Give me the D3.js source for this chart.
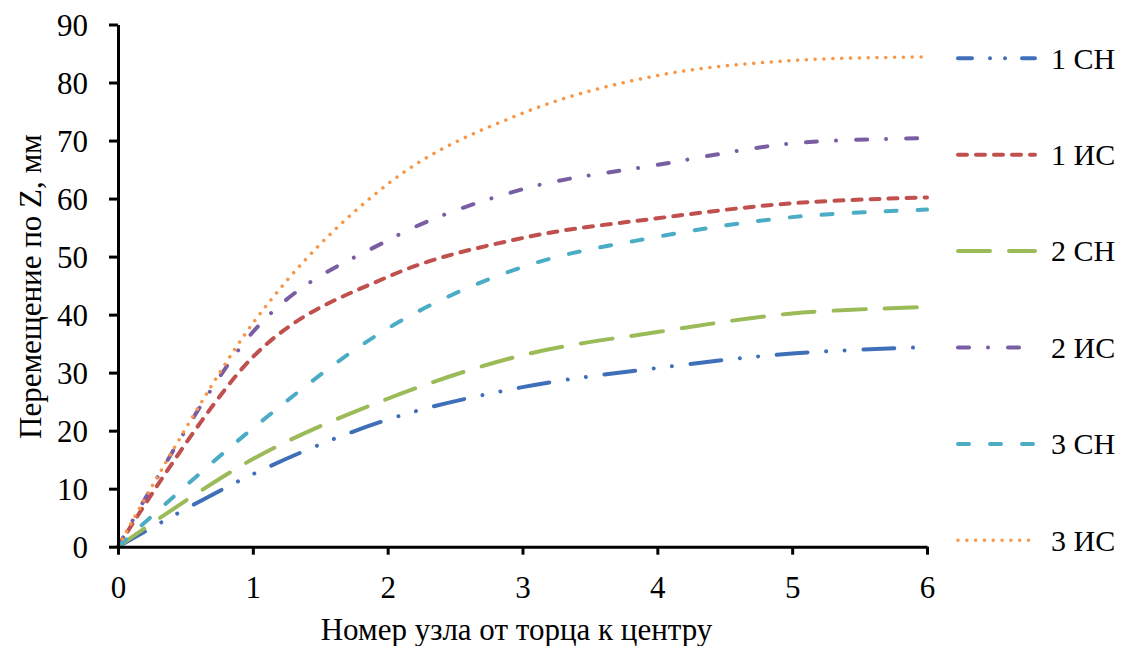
<!DOCTYPE html>
<html>
<head>
<meta charset="utf-8">
<script src="https://cdn.jsdelivr.net/npm/d3@7"></script>
</head>
<body style="margin:0; background:#fff">
<script>
// node numbers
const nodes = [0, 1, 2, 3, 4, 5, 6];

// displacement along Z, mm
const sn1 = [0, 12.5, 21.9, 27.5, 30.8, 33.3, 34.4];
const is1 = [0, 32.7, 46.5, 53.2, 56.6, 59.2, 60.2];
const sn2 = [0, 15.1, 25.5, 33.0, 37.0, 40.2, 41.3];
const is2 = [0, 37.0, 52.8, 61.6, 65.8, 69.5, 70.4];
const sn3 = [0, 20.4, 37.6, 48.2, 53.4, 56.8, 58.1];
const is3 = [0, 38.5, 62.5, 74.7, 81.2, 83.8, 84.4];

const seriesNames = ['1 СН', '1 ИС', '2 СН', '2 ИС', '3 СН', '3 ИС'];
const xTicks = [0, 1, 2, 3, 4, 5, 6];
const yTicks = [0, 10, 20, 30, 40, 50, 60, 70, 80, 90];

const FONT = 'Liberation Serif';

const styles = [
    {color: '#3f6fb8', dash: '31,18.7,0.01,18.3,0.01,18.7', legendDash: '14,18,0.01,15,0.01,17', width: 4},
    {color: '#c0504d', dash: '9,9', width: 4},
    {color: '#9bbb59', dash: '32,19', width: 4},
    {color: '#7a5ea3', dash: '11,19,0.01,20', width: 4},
    {color: '#4bacc6', dash: '11,21', width: 4},
    {color: '#f79646', dash: '0.01,8.8', width: 3.5}
];

const width = 1129, height = 646;
const margins = {top: 24.5, left: 118, right: 202, bottom: 99.3};
const innerW = width - margins.left - margins.right;
const innerH = height - margins.top - margins.bottom;

const svg = d3.select('body')
    .append('svg')
    .attr('width', width)
    .attr('height', height);

const chart = svg.append('g')
    .attr('transform', `translate(${margins.left},${margins.top})`);

//scales
const x = d3.scaleLinear().domain([0, 6]).range([0, innerW]);
const y = d3.scaleLinear().domain([0, 90]).range([innerH, 0]);

//lines
const data = [sn1, is1, sn2, is2, sn3, is3];
const line = d3.line()
    .x((d, i) => x(nodes[i]))
    .y(d => y(d))
    .curve(d3.curveCardinal.tension(0));

chart.selectAll('path.series')
    .data(data)
    .enter()
    .append('path')
    .classed('series', true)
    .attr('d', line)
    .attr('fill', 'none')
    .attr('stroke', (d, i) => styles[i].color)
    .attr('stroke-width', (d, i) => styles[i].width)
    .attr('stroke-linecap', 'round')
    .attr('stroke-dasharray', (d, i) => styles[i].dash);

//axes
const xAxis = chart.append('g')
    .attr('transform', `translate(0,${innerH})`)
    .call(d3.axisBottom(x).tickValues(xTicks).tickFormat(d3.format('d'))
        .tickSize(8).tickSizeOuter(0).tickPadding(21));

const yAxis = chart.append('g')
    .call(d3.axisLeft(y).tickValues(yTicks).tickFormat(d3.format('d'))
        .tickSize(9).tickSizeOuter(0).tickPadding(21));

[xAxis, yAxis].forEach(axis => {
    axis.attr('font-family', FONT).attr('font-size', 31);
    axis.selectAll('path, line')
        .attr('stroke', '#000')
        .attr('stroke-width', 3);
    axis.selectAll('text')
        .attr('fill', '#000')
        .attr('font-family', FONT)
        .style('font-family', FONT)
        .style('font-size', '31px');
});
yAxis.selectAll('text').attr('dy', '0.34em');
xAxis.selectAll('text').attr('dy', '0.71em');

//titles
svg.append('text')
    .attr('x', margins.left + innerW / 2 - 6)
    .attr('y', 640)
    .attr('text-anchor', 'middle')
    .attr('font-family', FONT)
    .attr('font-size', 31)
    .style('font-family', FONT)
    .text('Номер узла от торца к центру');

svg.append('text')
    .attr('transform', `translate(41,${margins.top + innerH / 2 + 1}) rotate(-90)`)
    .attr('text-anchor', 'middle')
    .attr('font-family', FONT)
    .attr('font-size', 31)
    .style('font-family', FONT)
    .text('Перемещение по Z, мм');

//legend
const rows = svg.append('g')
    .selectAll('g')
    .data(seriesNames)
    .enter()
    .append('g')
    .attr('transform', (d, i) => `translate(0,${58.3 + i * 96.4})`);

rows.append('line')
    .attr('x1', 958)
    .attr('x2', 1035)
    .attr('stroke', (d, i) => styles[i].color)
    .attr('stroke-width', (d, i) => styles[i].width)
    .attr('stroke-linecap', 'round')
    .attr('stroke-dasharray', (d, i) => styles[i].legendDash || styles[i].dash);

rows.append('text')
    .attr('x', 1051)
    .attr('dy', '0.34em')
    .attr('font-family', FONT)
    .attr('font-size', 30)
    .style('font-family', FONT)
    .text(d => d);
</script>
</body>
</html>
